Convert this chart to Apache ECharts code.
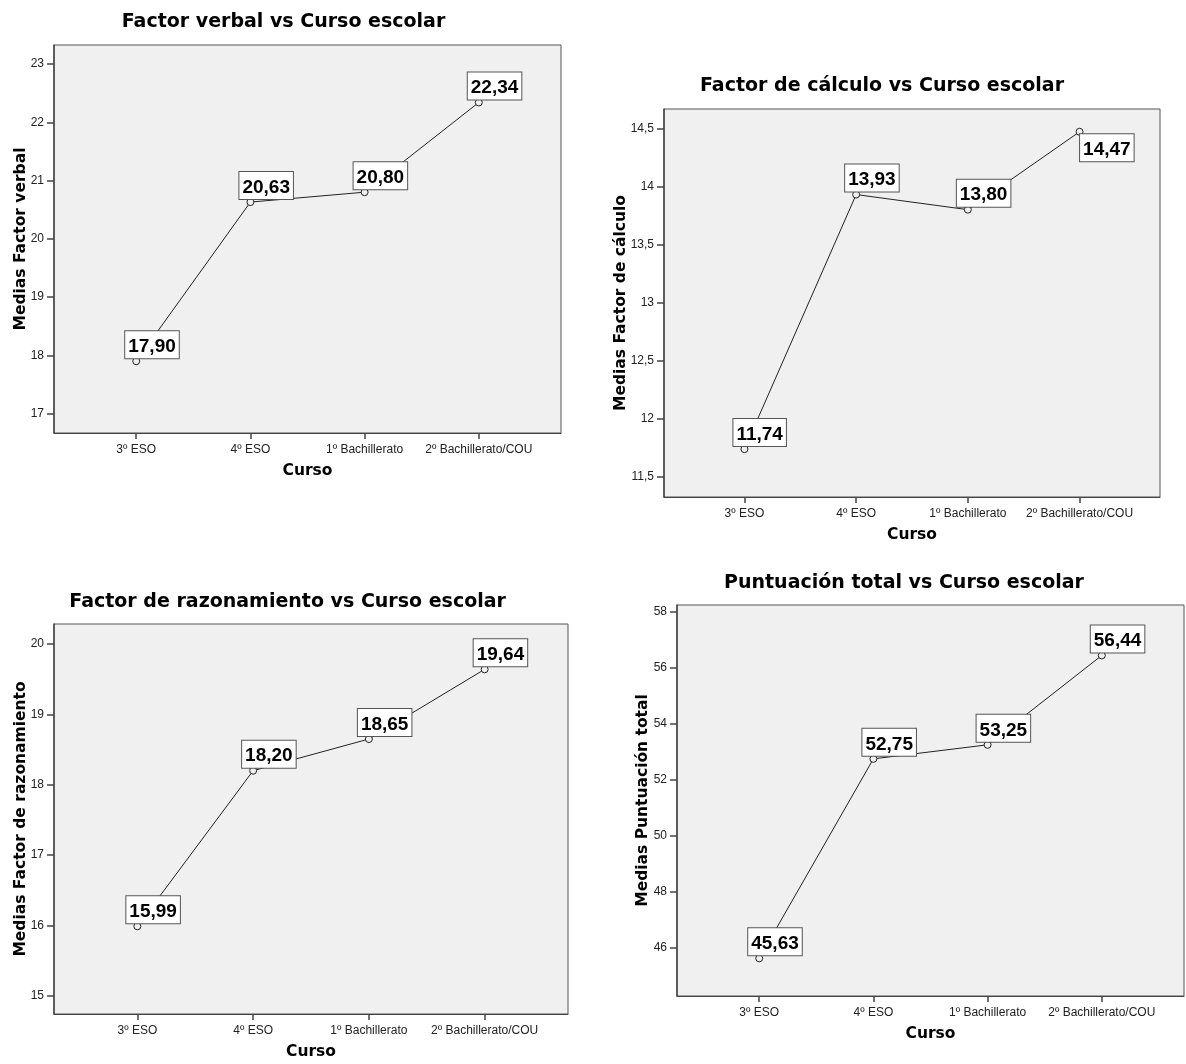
<!DOCTYPE html>
<html>
<head>
<meta charset="utf-8">
<script src="https://cdn.jsdelivr.net/npm/echarts@6/dist/echarts.min.js"></script>
<style>
  html, body { margin: 0; padding: 0; background: #ffffff; }
  #chart { width: 1186px; height: 1064px; }
</style>
</head>
<body>
<div id="chart"></div>
<script>
// ---------- data ----------
const categories = ['3º ESO', '4º ESO', '1º Bachillerato', '2º Bachillerato/COU'];
const verbal = [17.90, 20.63, 20.80, 22.34];
const calculo = [11.74, 13.93, 13.80, 14.47];
const razonamiento = [15.99, 18.20, 18.65, 19.64];
const total = [45.63, 52.75, 53.25, 56.44];

const ticksVerbal = [17, 18, 19, 20, 21, 22, 23];
const ticksCalculo = [11.5, 12, 12.5, 13, 13.5, 14, 14.5];
const ticksRazonamiento = [15, 16, 17, 18, 19, 20];
const ticksTotal = [46, 48, 50, 52, 54, 56, 58];

const titles = [
  'Factor verbal vs Curso escolar',
  'Factor de cálculo vs Curso escolar',
  'Factor de razonamiento vs Curso escolar',
  'Puntuación total vs Curso escolar'
];
const yNames = [
  'Medias Factor verbal',
  'Medias Factor de cálculo',
  'Medias Factor de razonamiento',
  'Medias Puntuación total'
];
const xName = 'Curso';

// ---------- layout ----------
const panels = [
  { values: verbal, ticks: ticksVerbal, grid: { left: 54, top: 45, width: 507, height: 388 },
    yRange: [16.667, 23.326], yGap: 25, title: [283.5, 22] },
  { values: calculo, ticks: ticksCalculo, grid: { left: 664, top: 109, width: 496, height: 388 },
    yRange: [11.328, 14.666], yGap: 35, title: [882, 86] },
  { values: razonamiento, ticks: ticksRazonamiento, grid: { left: 54, top: 624, width: 514, height: 390 },
    yRange: [14.744, 20.284], yGap: 25.5, title: [287.6, 601.7] },
  { values: total, ticks: ticksTotal, grid: { left: 677, top: 605, width: 507, height: 391 },
    yRange: [44.286, 58.24], yGap: 26, title: [904, 582.7] }
];

const catIdx = categories.map((c, i) => i);
const fmtComma = v => String(v).replace('.', ',');

const grids = [], xAxes = [], yAxes = [], series = [], graphics = [];

panels.forEach((p, i) => {
  grids.push(Object.assign({
    show: true,
    backgroundColor: '#f0f0f0',
    borderColor: '#555555',
    borderWidth: 1,
    outerBoundsMode: 'none',
    containLabel: false
  }, p.grid));

  xAxes.push({
    type: 'value',
    gridIndex: i,
    min: -0.72,
    max: 3.72,
    name: xName,
    nameLocation: 'middle',
    nameGap: 30,
    nameMoveOverlap: false,
    nameTextStyle: { fontFamily: 'DejaVu Sans', fontWeight: 'bold', fontSize: 15.5, color: '#000' },
    axisLine: { show: true, onZero: false, lineStyle: { color: '#444', width: 1 } },
    axisTick: { show: true, customValues: catIdx, length: 6, lineStyle: { color: '#444', width: 1.5 } },
    axisLabel: {
      customValues: catIdx,
      formatter: v => categories[Math.round(v)],
      margin: 11,
      fontFamily: 'Liberation Sans',
      fontSize: 12,
      color: '#222'
    },
    splitLine: { show: false }
  });

  yAxes.push({
    type: 'value',
    gridIndex: i,
    min: p.yRange[0],
    max: p.yRange[1],
    name: yNames[i],
    nameLocation: 'middle',
    nameGap: p.yGap,
    nameMoveOverlap: false,
    nameTextStyle: { fontFamily: 'DejaVu Sans', fontWeight: 'bold', fontSize: 15.5, color: '#000' },
    axisLine: { show: true, onZero: false, lineStyle: { color: '#444', width: 1.5 } },
    axisTick: { show: true, customValues: p.ticks, length: 7, lineStyle: { color: '#444', width: 1.5 } },
    axisLabel: {
      customValues: p.ticks,
      formatter: fmtComma,
      margin: 10,
      fontFamily: 'Liberation Sans',
      fontSize: 12,
      color: '#222'
    },
    splitLine: { show: false }
  });

  const data = p.values.map((v, k) => {
    const item = { value: [k, v] };
    // the top point of the cálculo chart has its label below-right
    if (i === 1 && k === 3) item.label = { position: [4.5, 6.5] };
    return item;
  });

  series.push({
    type: 'line',
    xAxisIndex: i,
    yAxisIndex: i,
    data: data,
    silent: true,
    animation: false,
    symbol: 'circle',
    symbolSize: 7,
    itemStyle: { color: '#f0f0f0', borderColor: '#222', borderWidth: 1 },
    lineStyle: { color: '#222', width: 1 },
    label: {
      show: true,
      position: [-7, -26],
      formatter: q => q.value[1].toFixed(2).replace('.', ','),
      fontFamily: 'Liberation Sans',
      fontWeight: 'bold',
      fontSize: 19,
      lineHeight: 21,
      color: '#000',
      backgroundColor: '#ffffff',
      borderColor: '#555555',
      borderWidth: 1,
      padding: [5, 3, 1, 3]
    },
    emphasis: { disabled: true }
  });

  graphics.push({
    type: 'text',
    x: p.title[0],
    y: p.title[1],
    silent: true,
    style: {
      text: titles[i],
      font: 'bold 19px "DejaVu Sans"',
      fill: '#000',
      align: 'center',
      verticalAlign: 'middle'
    }
  });
});

const chart = echarts.init(document.getElementById('chart'), null, { renderer: 'canvas' });
chart.setOption({
  backgroundColor: '#ffffff',
  animation: false,
  grid: grids,
  xAxis: xAxes,
  yAxis: yAxes,
  series: series,
  graphic: graphics
});
</script>
</body>
</html>
